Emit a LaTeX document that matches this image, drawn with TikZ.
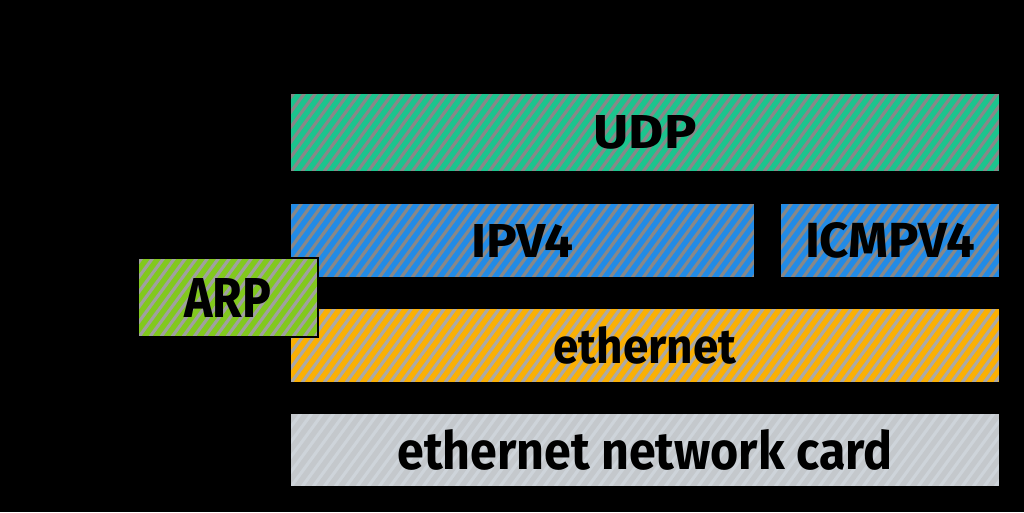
\documentclass[tikz,border=0pt]{standalone}
\usepackage{fontspec}
\setmainfont{Fira Sans}
\usepackage{graphicx}
\definecolor{cudp}{HTML}{1CC48E}
\definecolor{cip}{HTML}{228BE6}
\definecolor{ceth}{HTML}{FAB005}
\definecolor{carp}{HTML}{82C91E}
\definecolor{ccard}{HTML}{CED4DA}
\definecolor{gapA}{HTML}{888888}
\definecolor{gapB}{HTML}{ABA9A6}
\definecolor{gapC}{HTML}{A0A0A0}
\definecolor{cardline}{HTML}{C4C8CC}
\tikzset{
  hach/.style 2 args={fill=#2, path picture={
    \foreach \i in {-100,-89,...,720}
      \draw[line width=5.4pt,#1] ([xshift=\i pt,yshift=-10pt]path picture bounding box.south west) -- ++(110pt,150pt);
  }},
  layer/.style={draw=black, line width=2.6pt, inner sep=0pt, text=black}
}
\newcommand\fitlabel[3]{\resizebox{#1pt}{#2pt}{#3}}
\begin{document}
\begin{tikzpicture}[x=1pt,y=-1pt]
\fill[black] (0,0) rectangle (1024,512);
\useasboundingbox (0,0) rectangle (1024,512);
\node[layer, hach={cudp}{gapA}, minimum width=710pt, minimum height=79pt] (udp) at (645,132.5) {\fitlabel{103}{33}{\bfseries UDP}};
\node[layer, hach={cip}{gapA}, minimum width=465pt, minimum height=75pt] (ipv4) at (522.5,240.5) {\fitlabel{102}{33}{\bfseries IPV4}};
\node[layer, hach={cip}{gapA}, minimum width=220pt, minimum height=75pt] (icmp) at (890,240.5) {\fitlabel{170}{35}{\bfseries ICMPV4}};
\node[layer, hach={ceth}{gapB}, minimum width=710pt, minimum height=75pt] (eth) at (645,345.5) {\fitlabel{183}{37}{\bfseries ethernet}};
\node[layer, hach={cardline}{ccard}, minimum width=710pt, minimum height=74pt] (card) at (645,450) {\fitlabel{495}{40}{\bfseries ethernet network card}};
\node[layer, hach={carp}{gapC}, minimum width=180pt, minimum height=79pt] (arp) at (228,297.5) {\fitlabel{87}{39}{\bfseries ARP}};
\end{tikzpicture}
\end{document}
